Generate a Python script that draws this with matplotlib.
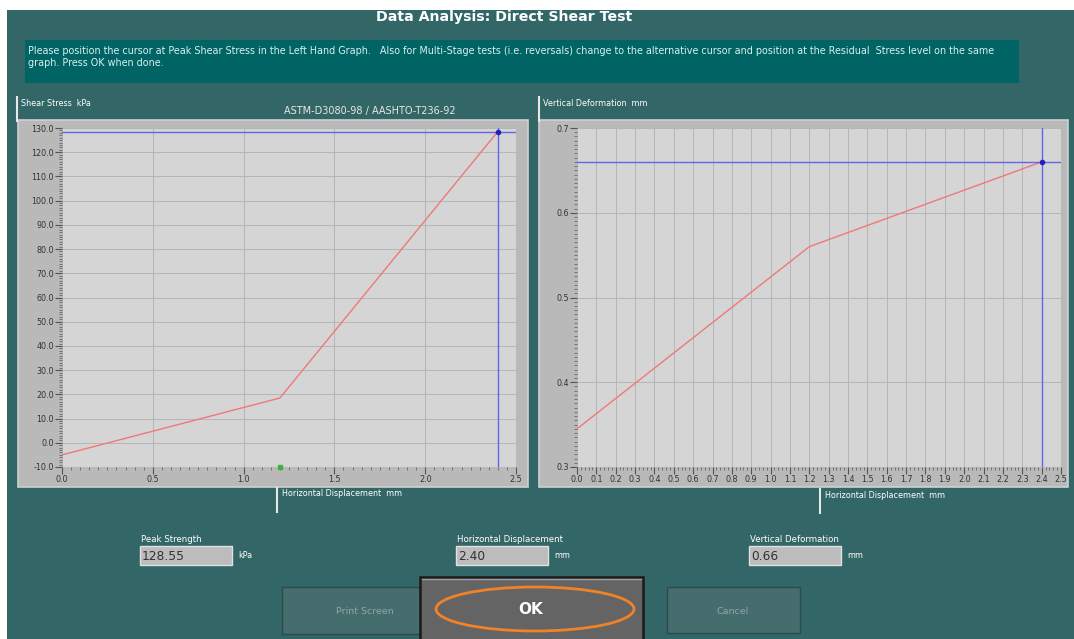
import matplotlib
matplotlib.use('Agg')
import matplotlib.pyplot as plt
from matplotlib.patches import Rectangle, Ellipse
import numpy as np

# data
disp = [0.0, 1.2, 2.4]              # horizontal displacement, mm
shear = [-5.0, 18.5, 128.55]        # shear stress, kPa
vert = [0.345, 0.56, 0.66]          # vertical deformation, mm
peak_disp = 2.40
peak_shear = 128.55
peak_vert = 0.66

left_yticks = [-10, 0, 10, 20, 30, 40, 50, 60, 70, 80, 90, 100, 110, 120, 130]
left_xticks = [0.0, 0.5, 1.0, 1.5, 2.0, 2.5]
right_yticks = [0.3, 0.4, 0.5, 0.6, 0.7]
right_xticks = [round(i * 0.1, 1) for i in range(26)]

W, H = 1074, 639
TEAL = '#336666'
MSG = '#006464'
PANEL = '#b9b9b9'
PLOT = '#d5d5d5'
GRID = '#b6b6b6'
RED = '#f07878'
BLUE = '#6464e6'

plt.rcParams['font.family'] = ['DejaVu Sans']

fig = plt.figure(figsize=(W / 100, H / 100), dpi=100)
fig.patch.set_facecolor('white')


def frac(x0, y0, x1, y1):
    return [x0 / W, 1 - y1 / H, (x1 - x0) / W, (y1 - y0) / H]


# background layer in pixel coordinates
bg = fig.add_axes([0, 0, 1, 1])
bg.set_xlim(0, W)
bg.set_ylim(H, 0)
bg.axis('off')

bg.add_patch(Rectangle((7, 10), W - 7, H - 10, fc=TEAL, ec='none'))
bg.text(504, 17, 'Data Analysis: Direct Shear Test', color='white', fontsize=10.2,
        fontweight='bold', ha='center', va='center')
bg.add_patch(Rectangle((25, 40), 994, 43, fc=MSG, ec='none'))
bg.text(28, 46, 'Please position the cursor at Peak Shear Stress in the Left Hand Graph.   '
        'Also for Multi-Stage tests (i.e. reversals) change to the alternative cursor and '
        'position at the Residual  Stress level on the same\ngraph. Press OK when done.',
        color='#d8f0f0', fontsize=6.9, va='top', ha='left', linespacing=1.2)

# panel frames
for (x0, y0, x1, y1) in [(18, 120, 528, 487), (539, 120, 1068, 487)]:
    bg.add_patch(Rectangle((x0, y0), x1 - x0, y1 - y0, fc=PANEL, ec='#d0d0d0', lw=1.2))

# axis caption marks
for (lx, ly0, ly1, tx, ty, s) in [(17, 97, 121, 21, 103, 'Shear Stress  kPa'),
                                  (539, 97, 121, 543, 103, 'Vertical Deformation  mm'),
                                  (277, 488, 512, 282, 493, 'Horizontal Displacement  mm'),
                                  (820, 489, 513, 825, 495, 'Horizontal Displacement  mm')]:
    bg.plot([lx, lx], [ly0, ly1], color='#e8e8e8', lw=1.5)
    bg.text(tx, ty, s, color='white', fontsize=5.8, ha='left', va='center')

bg.text(370, 111, 'ASTM-D3080-98 / AASHTO-T236-92', color='#e8e8e8', fontsize=7,
        ha='center', va='center')

# numeric readouts
fields = [(140, 'Peak Strength', '%.2f' % peak_shear, 'kPa'),
          (456, 'Horizontal Displacement', '%.2f' % peak_disp, 'mm'),
          (749, 'Vertical Deformation', '%.2f' % peak_vert, 'mm')]
for (fx, label, val, unit) in fields:
    bg.text(fx + 1, 540, label, color='white', fontsize=6.2, ha='left', va='center')
    bg.add_patch(Rectangle((fx, 546), 92, 19, fc='#bcbcbc', ec='#e0e0e0', lw=1))
    bg.text(fx + 2, 556, val, color='#333333', fontsize=8.8, ha='left', va='center')
    bg.text(fx + 98, 556, unit, color='white', fontsize=5.8, ha='left', va='center')

# buttons
bg.add_patch(Rectangle((282, 587), 138, 47, fc='#456d6d', ec='#2a4c4c', lw=1))
bg.text(365, 611, 'Print Screen', color='#8fa6a6', fontsize=6.8, ha='center', va='center')
bg.add_patch(Rectangle((667, 587), 133, 46, fc='#456d6d', ec='#2a4c4c', lw=1))
bg.text(733, 611, 'Cancel', color='#8fa6a6', fontsize=6.8, ha='center', va='center')
bg.add_patch(Rectangle((420, 577), 223, 64, fc='#646464', ec='#1a1a1a', lw=1.8))
bg.plot([422, 641], [579, 579], color='#a0a0a0', lw=1)
bg.text(531, 610, 'OK', color='white', fontsize=11, fontweight='bold', ha='center', va='center')
bg.add_patch(Ellipse((535, 609), 198, 44, fc='none', ec='#f08228', lw=2))


def style(ax, ylim, yticks, ymin_step, xticks, xmin_step, fmt_y, fmt_x):
    ax.set_facecolor(PLOT)
    ax.set_xlim(0, 2.5)
    ax.set_ylim(*ylim)
    ax.set_yticks(yticks)
    ax.set_yticklabels([fmt_y % v for v in yticks])
    ax.set_xticks(xticks)
    ax.set_xticklabels([fmt_x % v for v in xticks])
    ax.set_yticks(np.arange(ylim[0], ylim[1] + 1e-9, ymin_step), minor=True)
    ax.set_xticks(np.arange(0, 2.5 + 1e-9, xmin_step), minor=True)
    ax.grid(True, which='major', color=GRID, lw=0.7)
    ax.tick_params(which='major', length=5, width=0.8, color='#555555', labelsize=5.8,
                   labelcolor='#333333', pad=1)
    ax.tick_params(which='minor', length=2.5, width=0.6, color='#666666')
    for sp in ax.spines.values():
        sp.set_visible(False)
    ax.set_axisbelow(True)


# left graph: shear stress
ax1 = fig.add_axes(frac(62, 128, 516, 467))
style(ax1, (-10, 130), left_yticks, 1, left_xticks, 0.05, '%.1f', '%.1f')
ax1.plot(disp, shear, color=RED, lw=1)
ax1.axhline(peak_shear, color=BLUE, lw=1)
ax1.axvline(peak_disp, color=BLUE, lw=1)
ax1.plot([peak_disp], [peak_shear], 'o', color='#2020c0', ms=3)
ax1.plot([disp[1]], [-10], 's', color='#40b040', ms=2.5, clip_on=False)

# right graph: vertical deformation
ax2 = fig.add_axes(frac(577, 128, 1061, 467))
style(ax2, (0.3, 0.7), right_yticks, 0.005, right_xticks, 0.02, '%.1f', '%.1f')
ax2.plot(disp, vert, color=RED, lw=1)
ax2.axhline(peak_vert, color=BLUE, lw=1)
ax2.axvline(peak_disp, color=BLUE, lw=1)
ax2.plot([peak_disp], [peak_vert], 'o', color='#2020c0', ms=3)

fig.savefig('out.png', dpi=100, facecolor=fig.get_facecolor())
